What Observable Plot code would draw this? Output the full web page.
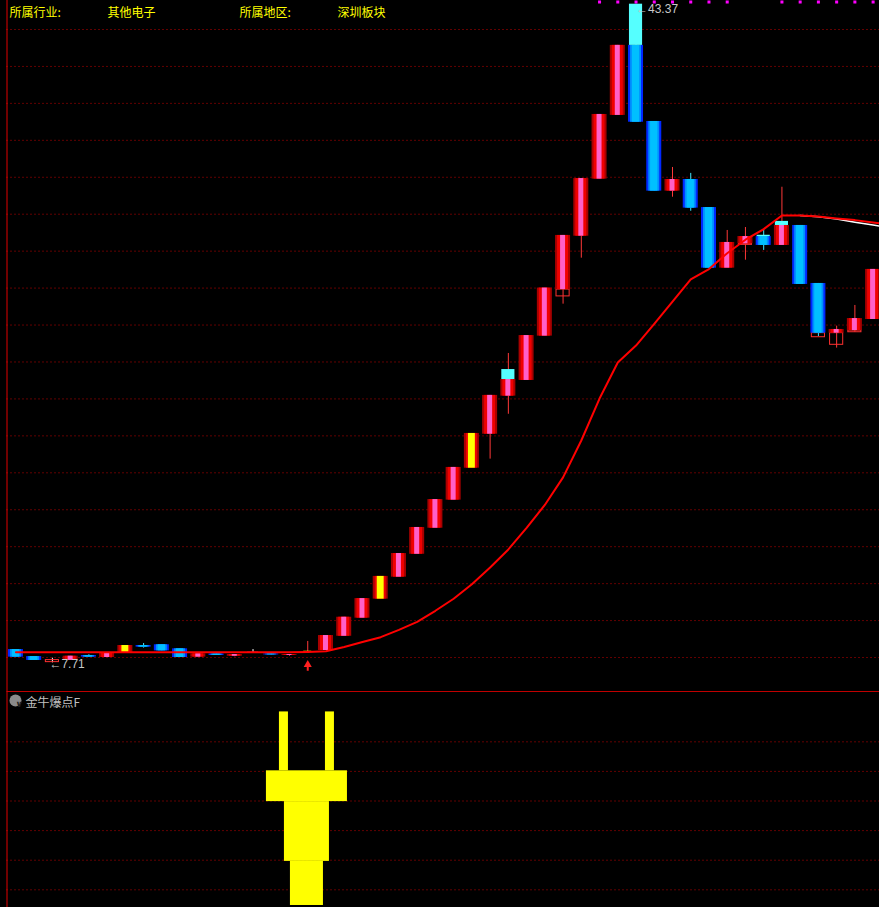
<!DOCTYPE html>
<html><head><meta charset="utf-8">
<script src="https://cdn.jsdelivr.net/npm/d3@7"></script>
<script src="https://cdn.jsdelivr.net/npm/@observablehq/plot@0.6"></script>
<style>
html,body{margin:0;padding:0;background:#000;}
#chart{width:879px;height:907px;background:#000;overflow:hidden;}
#chart svg{display:block;}
</style></head><body><div id="chart"></div>
<script>
// ---- data ----
const opens  = [8.43,8.05,7.75,7.84,8.11,8.00,8.25,8.65,8.69,8.47,8.02,8.19,8.07,8.27,8.19,8.11,8.29,8.38,9.15,10.13,11.16,12.35,13.59,15.00,16.52,18.25,20.09,22.15,23.00,25.40,27.92,30.81,33.90,37.35,41.14,37.02,33.25,33.88,32.36,29.08,30.40,30.79,30.31,31.39,28.25,25.56,25.70,26.30];
const closes = [8.02,7.84,7.86,8.07,8.02,8.22,8.65,8.56,8.36,8.00,8.20,8.11,8.16,8.29,8.14,8.16,8.34,9.19,10.18,11.19,12.39,13.63,15.04,16.55,18.29,20.13,22.19,23.05,25.43,28.00,30.85,33.93,37.40,41.14,36.98,33.25,33.88,32.33,29.08,30.47,30.79,30.31,31.39,28.20,25.56,25.76,26.35,29.01];
const highs  = [8.43,8.05,7.96,8.07,8.15,8.22,8.65,8.76,8.69,8.47,8.20,8.19,8.16,8.43,8.19,8.16,8.87,9.19,10.18,11.19,12.39,13.63,15.04,16.55,18.29,20.13,22.19,24.46,25.43,28.00,30.85,33.93,37.40,41.14,43.37,37.02,34.53,34.21,32.36,31.12,31.28,31.16,33.46,31.39,28.25,25.94,27.06,29.01];
const lows   = [8.02,7.84,7.71,7.84,8.02,8.00,8.25,8.51,8.36,8.00,8.02,8.11,8.04,8.25,8.14,8.07,8.29,8.38,9.15,10.13,11.16,12.35,13.59,15.00,16.52,18.25,18.74,21.17,23.00,25.40,27.13,29.62,33.90,37.35,36.98,33.25,32.92,32.16,29.08,29.08,29.51,30.04,30.31,28.20,25.38,24.75,25.61,26.30];
const kinds  = ["down","down","hollow","up","down","up","upY","down","down","down","up","down","up","doji","down","up","dojiY","up","up","up","upY","up","up","up","up","upY","up","up","up","up","up","up","up","up","down","down","up","down","down","up","up","down","up","down","down","up","up","up"];
// red moving average (last value belongs to the next, off-screen bar)
const ma     = [8.29,8.29,8.28,8.28,8.28,8.28,8.29,8.29,8.29,8.29,8.28,8.28,8.28,8.28,8.28,8.28,8.30,8.34,8.57,8.84,9.10,9.50,9.93,10.53,11.18,11.97,12.87,13.85,15.02,16.26,17.75,19.75,22.02,23.97,24.89,26.06,27.27,28.47,29.03,29.89,30.62,31.19,31.93,31.93,31.87,31.77,31.68,31.55,31.44];
const maWhite = [{i:43,v:31.93},{i:44,v:31.86},{i:45,v:31.74},{i:46,v:31.57},{i:47,v:31.41},{i:48,v:31.25}];
const caps    = [{i:27,lo:23.05,hi:23.59},{i:34,lo:41.14,hi:43.37},{i:41,lo:30.79,hi:30.86},{i:42,lo:31.39,hi:31.61}];
const hollows = [{i:2,lo:7.75,hi:7.86},{i:30,lo:27.55,hi:27.92},{i:40,lo:30.34,hi:30.40},{i:44,lo:25.34,hi:25.56},{i:45,lo:24.93,hi:25.56},{i:46,lo:25.61,hi:25.70}];
const magentaIdx = [32,33,34,35,36,37,38,39,42,43,44,45,46,47];
const gridPrices = [8,10,12,14,16,18,20,22,24,26,28,30,32,34,36,38,40,42];
const lowerGrid  = [10,20,30,40,50,60];
const signalIdx = 16;
const plugBars = [
  {dx1:-1.552,dx2:-1.058,lo:50.2,hi:70.1},
  {dx1:0.971,dx2:1.464,lo:50.2,hi:70.1},
  {dx1:-2.265,dx2:2.177,lo:39.8,hi:50.2},
  {dx1:-1.278,dx2:1.190,lo:19.6,hi:39.8},
  {dx1:-0.949,dx2:0.861,lo:4.7,hi:19.6}
];
const headerLabels = ["所属行业:","其他电子","所属地区:","深圳板块"];
const indicatorName = "金牛爆点F";

// ---- build ----
const candles = opens.map((o,i)=>({i, open:o, close:closes[i], high:highs[i], low:lows[i], kind:kinds[i]}));
const maData = ma.map((v,i)=>({i, v}));
const ups = candles.filter(d=>d.kind==="up"||d.kind==="upY");
const upsPink = candles.filter(d=>d.kind==="up");
const upsYellow = candles.filter(d=>d.kind==="upY");
const downs = candles.filter(d=>d.kind==="down");
const dojis = candles.filter(d=>d.kind==="doji");
const dojiY = candles.filter(d=>d.kind==="dojiY");
const hiIdx = d3.maxIndex(highs), loIdx = d3.minIndex(lows);

const xDomain = [-0.49, 47.35];
const body = (data, half, fill) => Plot.rect(data, {x1:d=>d.i-half, x2:d=>d.i+half, y1:"open", y2:"close", fill});
const wick = (data, stroke) => Plot.ruleX(data, {x:"i", y1:"low", y2:"high", stroke, strokeWidth:1});
const grid = "#c40000";
const cjk = "'Noto Sans CJK SC', sans-serif";
const latin = "'Liberation Sans', 'DejaVu Sans', sans-serif";

const main = Plot.plot({
  width: 879, height: 691,
  marginLeft: 6.5, marginRight: 0, marginTop: 0, marginBottom: 0,
  style: {background:"#000"},
  x: {domain: xDomain, axis: null},
  y: {domain: [6.16, 43.57], axis: null},
  marks: [
    Plot.ruleY(gridPrices, {stroke:grid, strokeDasharray:"1,3"}),
    Plot.ruleX([xDomain[0]], {stroke:"#e00000"}),
    wick(ups, "#ff3838"),
    wick(downs, "#40e8ff"),
    wick(dojis, "#ffffff"),
    wick(dojiY, "#ff3838"),
    wick(candles.filter(d=>d.kind==="hollow"), "#ffffff"),
    Plot.rect(hollows, {x1:d=>d.i-0.36, x2:d=>d.i+0.36, y1:"lo", y2:"hi", fill:"none", stroke:"#ff3030"}),
    body(ups, 0.411, "#a80000"),
    body(ups, 0.30, "#f00000"),
    body(upsPink, 0.137, "#ff60c8"),
    body(upsYellow, 0.19, "#ffff00"),
    body(downs, 0.411, "#0028ff"),
    body(downs, 0.30, "#0090ff"),
    body(downs, 0.20, "#00c0ff"),
    body(dojis, 0.30, "#ff3060"),
    body(dojiY, 0.22, "#ffff00"),
    Plot.rect(caps, {x1:d=>d.i-0.36, x2:d=>d.i+0.36, y1:"lo", y2:"hi", fill:"#55ffff"}),
    Plot.line(maWhite, {x:"i", y:"v", stroke:"#ffffff", strokeWidth:1.5}),
    Plot.line(maData, {x:"i", y:"v", stroke:"#ff0000", strokeWidth:2}),
    Plot.dot(magentaIdx, {x:d=>d, frameAnchor:"top", dy:1.5, symbol:"square", r:1.7, fill:"#ff00ff"}),
    Plot.text([candles[hiIdx]], {x:"i", y:"high", text:d=>"←"+d3.format(".2f")(d.high), textAnchor:"start", dx:0, dy:5, fill:"#c8c8c8", fontSize:12, fontFamily:latin}),
    Plot.text([candles[loIdx]], {x:"i", y:"low", text:d=>"←"+d3.format(".2f")(d.low), textAnchor:"start", dx:-3, dy:1, fill:"#c8c8c8", fontSize:12, fontFamily:latin}),
    Plot.dot([candles[signalIdx]], {x:"i", y:"low", dy:12.5, symbol:"triangle", r:3, fill:"#ff2020"}),
    Plot.ruleX([candles[signalIdx]], {x:"i", y1:"low", y2:d=>d.low-0.33, dy:13, stroke:"#ff2020", strokeWidth:2}),
    Plot.text([headerLabels[0]], {frameAnchor:"top-left", dx:2.5, dy:8, textAnchor:"start", fill:"#ffff00", fontSize:12, fontFamily:cjk}),
    Plot.text([headerLabels[1]], {frameAnchor:"top-left", dx:100.5, dy:8, textAnchor:"start", fill:"#ffff00", fontSize:12, fontFamily:cjk}),
    Plot.text([headerLabels[2]], {frameAnchor:"top-left", dx:232.5, dy:8, textAnchor:"start", fill:"#ffff00", fontSize:12, fontFamily:cjk}),
    Plot.text([headerLabels[3]], {frameAnchor:"top-left", dx:330.5, dy:8, textAnchor:"start", fill:"#ffff00", fontSize:12, fontFamily:cjk})
  ]
});

const lowerDomain = [4.02, 77.0];
const lower = Plot.plot({
  width: 879, height: 216,
  marginLeft: 6.5, marginRight: 0, marginTop: 0, marginBottom: 0,
  style: {background:"#000"},
  x: {domain: xDomain, axis: null},
  y: {domain: lowerDomain, axis: null},
  marks: [
    Plot.ruleY(lowerGrid, {stroke:grid, strokeDasharray:"1,3"}),
    Plot.ruleY([lowerDomain[1]], {stroke:"#c00000"}),
    Plot.ruleX([xDomain[0]], {stroke:"#e00000"}),
    Plot.rect(plugBars, {x1:d=>signalIdx+d.dx1, x2:d=>signalIdx+d.dx2, y1:"lo", y2:"hi", fill:"#ffff00"}),
    Plot.dot([indicatorName], {frameAnchor:"top-left", dx:8.5, dy:9, r:6, fill:"#8a8a8a"}),
    Plot.text(["∨"], {frameAnchor:"top-left", dx:8.5, dy:9, fill:"#202020", fontSize:9, fontWeight:"bold", fontFamily:"'DejaVu Sans', sans-serif"}),
    Plot.text([indicatorName], {frameAnchor:"top-left", dx:18.5, dy:6.5, textAnchor:"start", fill:"#c0c0c0", fontSize:12, fontFamily:cjk})
  ]
});

const el = document.getElementById("chart");
el.appendChild(main);
el.appendChild(lower);
</script></body></html>
